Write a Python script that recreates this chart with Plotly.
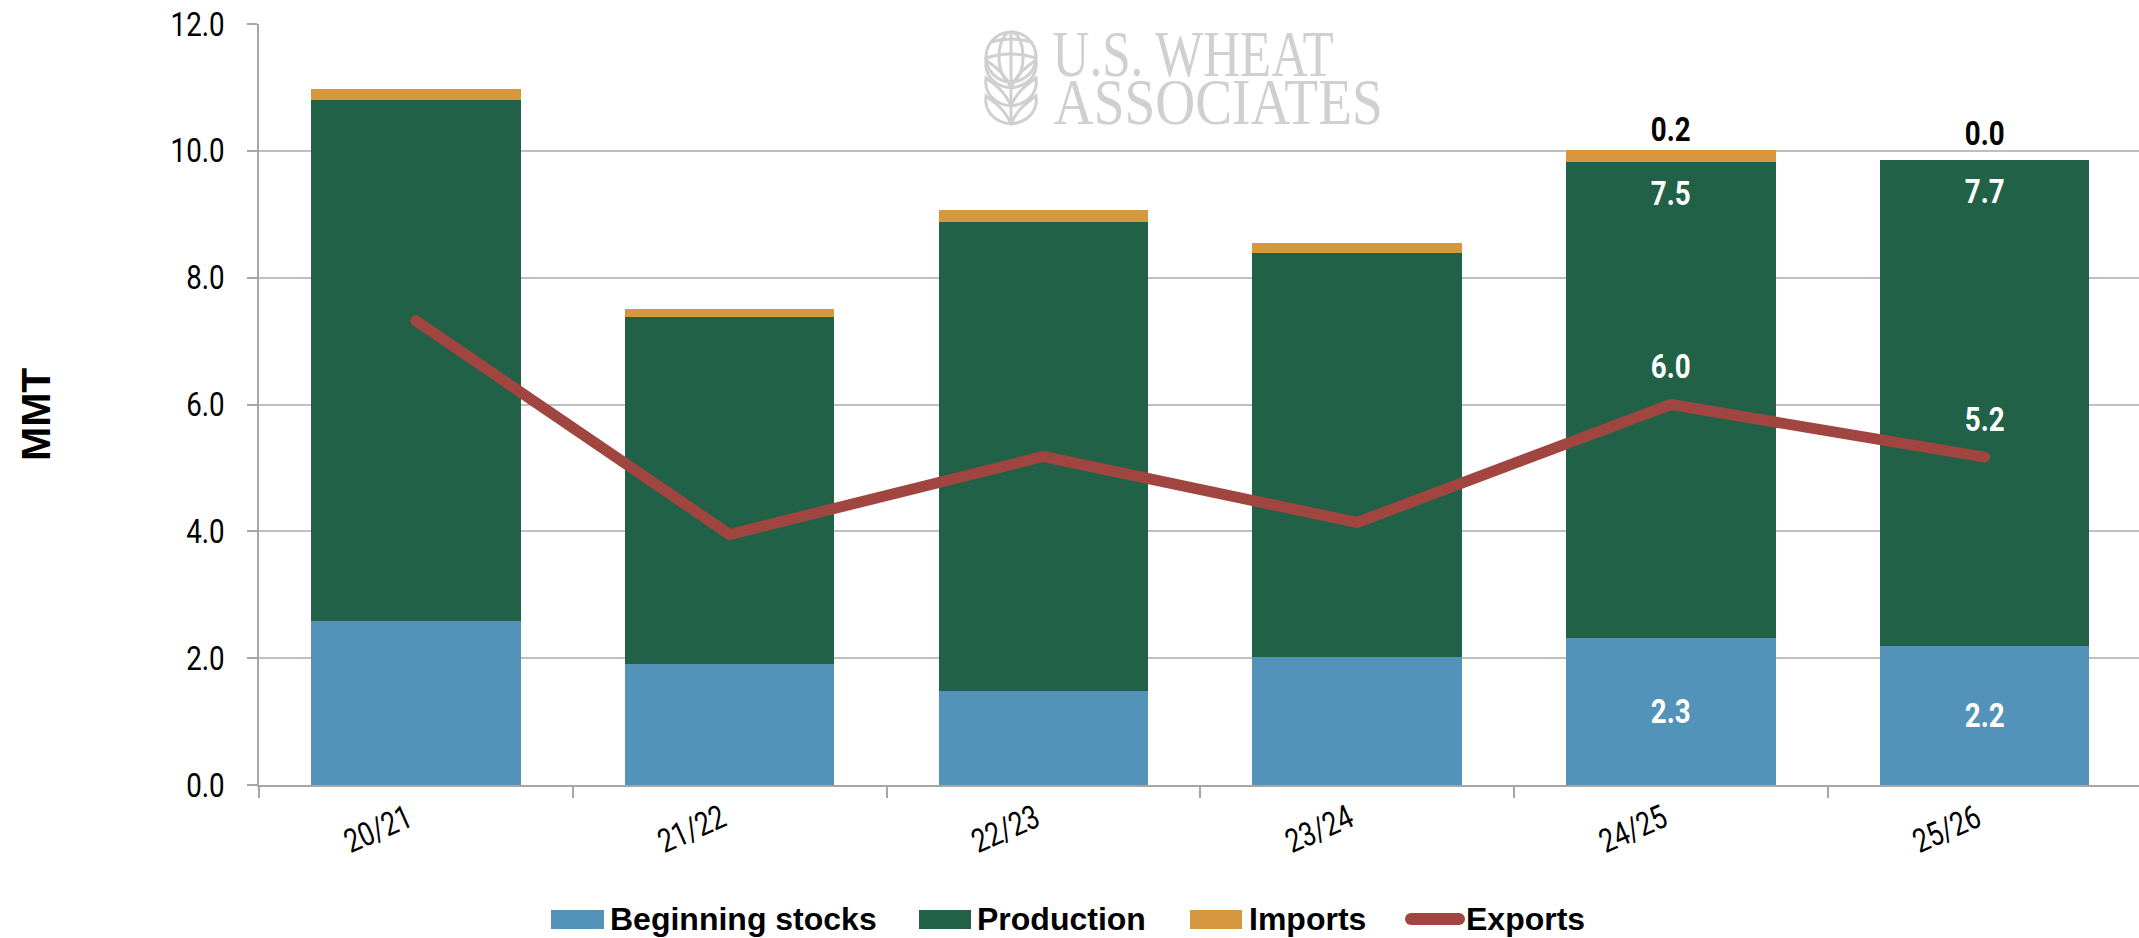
import plotly.graph_objects as go

years = ["20/21", "21/22", "22/23", "23/24", "24/25", "25/26"]
beginning = [2.58, 1.91, 1.48, 2.02, 2.32, 2.19]
production = [8.22, 5.47, 7.40, 6.37, 7.50, 7.66]
imports = [0.18, 0.13, 0.18, 0.16, 0.20, 0.00]
exports = [7.32, 3.95, 5.18, 4.14, 6.00, 5.17]
y_ticks = [0, 2, 4, 6, 8, 10, 12]

BLUE, GREEN, ORANGE, RED = "#5393b9", "#216147", "#d6973e", "#a04540"
W, H, L, T, B = 2139, 938, 259, 24, 153
NARROW = "Roboto"
GREY = "#d0d0d0"


def px(x):
    return (x - L) / (W - L)


def py(y):
    return (H - B - y) / (H - T - B)


def path(*cmds):
    out = []
    for c in cmds:
        if isinstance(c, str):
            out.append(c)
        else:
            out.append(f"{px(c[0]):.5f},{py(c[1]):.5f}")
    return " ".join(out)


fig = go.Figure()
fig.add_bar(x=years, y=beginning, name="Beginning stocks", marker_color=BLUE, marker_line_width=0)
fig.add_bar(x=years, y=production, name="Production", marker_color=GREEN, marker_line_width=0)
fig.add_bar(x=years, y=imports, name="Imports", marker_color=ORANGE, marker_line_width=0)
fig.add_scatter(x=years, y=exports, name="Exports", mode="lines",
                line=dict(color=RED, width=11))

annotations = []


def label(i, y, text, color, shift):
    annotations.append(dict(x=years[i], y=y, text=f"<b>{text}</b>", xref="x", yref="y", showarrow=False,
                            yshift=shift, font=dict(family=NARROW, size=33, color=color)))


for i in (4, 5):
    label(i, beginning[i] / 2, f"{beginning[i]:.1f}", "white", 0)
    label(i, beginning[i] + production[i], f"{production[i]:.1f}", "white", -31)
    label(i, beginning[i] + production[i] + imports[i], f"{imports[i]:.1f}", "black", 20 if imports[i] else 27)
    label(i, exports[i], f"{exports[i]:.1f}", "white", 38)

annotations.append(dict(x=px(36), y=py(415), xref="paper", yref="paper", text="<b>MMT</b>", textangle=-90,
                        xanchor="center", yanchor="middle", showarrow=False,
                        font=dict(family="Liberation Sans", size=41, color="black")))

shapes = []
legend_items = [("Beginning stocks", BLUE, 551, 604, 608), ("Production", GREEN, 919, 971, 975),
                ("Imports", ORANGE, 1190, 1242, 1247), ("Exports", RED, 1411, 1459, 1464)]
for name, color, x0, x1, tx in legend_items:
    if name == "Exports":
        shapes.append(dict(type="line", xref="paper", yref="paper", x0=px(x0), x1=px(x1), y0=py(919), y1=py(919),
                           line=dict(color=color, width=12)))
    else:
        shapes.append(dict(type="rect", xref="paper", yref="paper", x0=px(x0), x1=px(x1), y0=py(910), y1=py(929),
                           fillcolor=color, line_width=0))
    annotations.append(dict(x=px(tx), y=py(919), xref="paper", yref="paper", text=f"<b>{name}</b>",
                            xanchor="left", yanchor="middle", showarrow=False,
                            font=dict(family="Liberation Sans", size=32, color="black")))

# Watermark logo: wordmark as text, emblem as outlines
for text, x, y, size in [("U.S. WHEAT", 1192.5, 54, 65), ("ASSOCIATES", 1218, 102, 65)]:
    annotations.append(dict(x=px(x), y=py(y), xref="paper", yref="paper", text=text, xanchor="center",
                            yanchor="middle", showarrow=False,
                            font=dict(family="Liberation Serif", size=size, color=GREY)))
logo = dict(xref="paper", yref="paper", line=dict(color=GREY, width=3), layer="above")
cx = 1011
shapes.append(dict(type="circle", x0=px(cx - 25), x1=px(cx + 25), y0=py(82), y1=py(32), **logo))
shapes.append(dict(type="circle", x0=px(cx - 12), x1=px(cx + 12), y0=py(82), y1=py(32), **logo))
shapes.append(dict(type="path", path=path("M", (cx, 32), "L", (cx, 122)), **logo))
shapes.append(dict(type="path", path=path("M", (cx - 20, 42), "Q", (cx, 36), (cx + 20, 42)), **logo))
shapes.append(dict(type="path", path=path("M", (cx - 25, 58), "Q", (cx, 50), (cx + 25, 58)), **logo))
for y0 in (58, 76, 94):
    for s in (-1, 1):
        shapes.append(dict(type="path",
                           path=path("M", (cx, y0 + 30), "C", (cx + s * 6, y0 + 16), (cx + s * 14, y0 + 10), (cx + s * 25, y0 + 2),
                                     "C", (cx + s * 27, y0 + 16), (cx + s * 18, y0 + 28), (cx, y0 + 30)), **logo))

fig.update_layout(
    barmode="stack", bargap=0.333, width=W, height=H, autosize=False,
    margin=dict(l=L, r=0, t=T, b=B, pad=0), showlegend=False,
    plot_bgcolor="white", paper_bgcolor="white",
    font=dict(family=NARROW, size=30, color="black"),
    annotations=annotations, shapes=shapes,
    xaxis=dict(type="category", range=[-0.5, 5.492], tickson="boundaries", ticks="outside", ticklen=11,
               tickcolor="#a6a6a6", tickwidth=1.5, showline=True, linecolor="#a6a6a6", linewidth=1.5,
               tickangle=-24, showgrid=False, tickfont=dict(family=NARROW, size=33), ticklabelstandoff=0,
               ticklabelshift=-8),
    yaxis=dict(range=[0, 12], tickvals=y_ticks, tickformat=".1f", ticks="outside", ticklen=10,
               tickcolor="#a6a6a6", tickwidth=1.5, showline=True, linecolor="#a6a6a6", linewidth=1.5,
               gridcolor="#bfbfbf", gridwidth=1.5, zeroline=False, tickfont=dict(family=NARROW, size=33),
               ticklabelstandoff=16),
)

post = """
document.body.style.margin = '0';
function tune() {
  document.querySelectorAll('.main-svg text').forEach(function (t) {
    var fam = t.style.fontFamily || '';
    var s = t.textContent;
    var target = null;
    if (s === 'U.S. WHEAT') target = 281;
    else if (s === 'ASSOCIATES') target = 329;
    else if (fam.indexOf('Roboto') >= 0) target = t.getComputedTextLength() * (s.indexOf('/') >= 0 ? 0.8 : 0.84);
    if (target) { t.setAttribute('textLength', target); t.setAttribute('lengthAdjust', 'spacingAndGlyphs'); }
  });
  document.querySelectorAll('.scatterlayer path.js-line, .shapelayer path').forEach(function (p) {
    p.style.strokeLinecap = 'round';
  });
}
tune();
"""
fig.write_html("out.html", config=dict(displayModeBar=False), post_script=post)
